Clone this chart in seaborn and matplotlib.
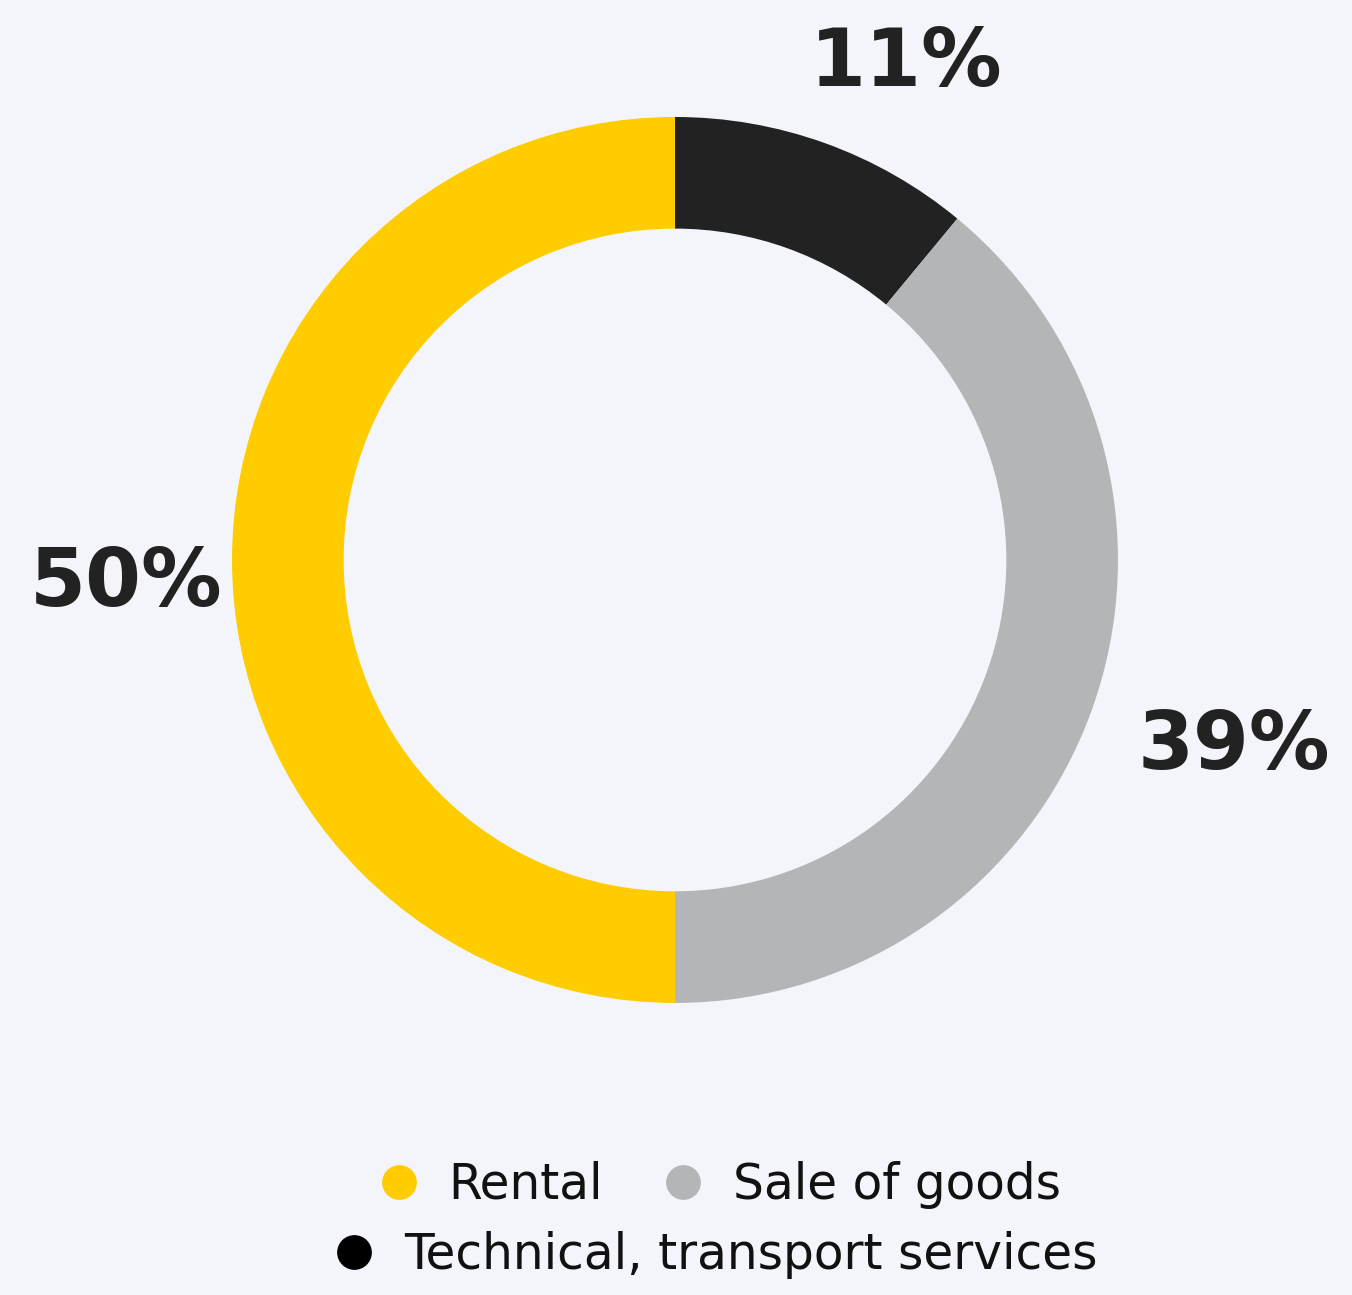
import matplotlib
matplotlib.use("Agg")
import matplotlib.pyplot as plt
from matplotlib.lines import Line2D
import seaborn as sns
import numpy as np

# data, clockwise from 12 o'clock
labels = ["Technical, transport services", "Sale of goods", "Rental"]
shares = [11, 39, 50]
colors = ["#222222", "#B3B5B6", "#FFCC00"]
pct_text = ["11%", "39%", "50%"]

bg = "#F3F5FA"
sns.set_style("white")
plt.rcParams["font.family"] = ["DejaVu Sans"]

fig = plt.figure(figsize=(13.52, 12.95), dpi=100, facecolor=bg)
ax = fig.add_axes([0.1716, 0.2255, 0.6553, 0.6842])
ax.set_facecolor(bg)

wedges, _ = ax.pie(shares, colors=colors, startangle=90, counterclock=False,
                   radius=1, wedgeprops=dict(width=0.252, linewidth=0))
ax.set_xlim(-1, 1)
ax.set_ylim(-1, 1)
ax.set_aspect("equal")
ax.axis("off")

# percentage labels outside the ring
label_pos = {"11%": (65.0, 1.235), "39%": (-18.5, 1.33), "50%": (182.5, 1.24)}
for w, t in zip(wedges, pct_text):
    ang, dist = label_pos[t]
    a = np.deg2rad(ang)
    ax.text(dist * np.cos(a), dist * np.sin(a), t, ha="center", va="center",
            fontsize=58, fontweight="bold", color="#222222", clip_on=False)

# legend in two centred rows
def handle(c):
    return Line2D([], [], marker="o", linestyle="", markersize=24,
                  markerfacecolor=c, markeredgecolor=c)

leg_kw = dict(loc="center", frameon=False, fontsize=35, handlelength=1.0,
              handletextpad=0.53, labelcolor="#111111")
row1 = fig.legend([handle(colors[2]), handle(colors[1])], [labels[2], labels[1]],
                  bbox_to_anchor=(0.531, 0.085), ncol=2, columnspacing=1.15, **leg_kw)
row2 = fig.legend([handle("#000000")], [labels[0]],
                  bbox_to_anchor=(0.528, 0.031), **leg_kw)

fig.savefig("out.png", dpi=100, facecolor=bg)
